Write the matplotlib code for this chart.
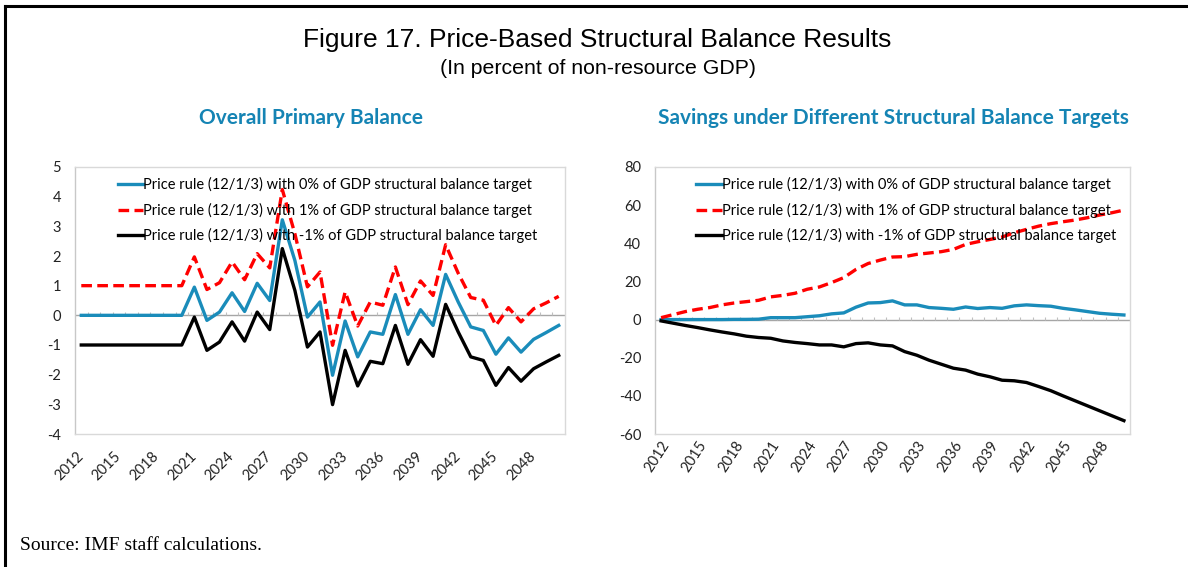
import matplotlib.pyplot as plt
import numpy as np
from matplotlib.lines import Line2D
from matplotlib.transforms import ScaledTranslation

# Years on the category axis
years = list(range(2012, 2051))

# Overall primary balance (left panel)
pb_zero = [0, 0, 0, 0, 0, 0, 0, 0, 0, 0.95, -0.17, 0.11, 0.76, 0.13, 1.08, 0.50, 3.22, 1.85, -0.06, 0.45,
           -2.02, -0.19, -1.40, -0.56, -0.64, 0.70, -0.64, 0.19, -0.34, 1.38, 0.45, -0.39, -0.51, -1.31,
           -0.76, -1.24, -0.81, -0.58, -0.34]
pb_plus = [1, 1, 1, 1, 1, 1, 1, 1, 1, 1.97, 0.87, 1.10, 1.80, 1.20, 2.08, 1.60, 4.24, 2.75, 0.96, 1.46,
           -1.01, 0.79, -0.36, 0.45, 0.34, 1.63, 0.36, 1.16, 0.67, 2.38, 1.42, 0.60, 0.51, -0.34,
           0.26, -0.22, 0.22, 0.42, 0.64]
pb_minus = [-1, -1, -1, -1, -1, -1, -1, -1, -1, -0.06, -1.18, -0.90, -0.22, -0.87, 0.11, -0.48, 2.25, 0.84,
            -1.07, -0.56, -3.01, -1.18, -2.38, -1.55, -1.63, -0.34, -1.65, -0.82, -1.38, 0.37, -0.56,
            -1.40, -1.52, -2.36, -1.76, -2.22, -1.80, -1.57, -1.35]

# Savings (right panel)
sv_zero = [0, 0, 0, 0, 0, 0, 0.1, 0.1, 0.2, 1.0, 1.0, 1.0, 1.5, 2.0, 3.0, 3.5, 6.5, 8.7, 8.9, 9.8,
           7.7, 7.7, 6.3, 5.9, 5.4, 6.6, 5.8, 6.3, 5.9, 7.2, 7.7, 7.3, 7.0, 5.9, 5.1, 4.2, 3.3, 2.8, 2.4]
sv_plus = [1.0, 2.6, 4.2, 5.4, 6.3, 7.7, 8.7, 9.4, 10.1, 11.9, 12.7, 13.8, 15.9, 17.1, 19.4, 22.0, 26.3,
           29.4, 31.2, 32.8, 33.0, 34.2, 34.9, 35.6, 36.8, 39.4, 40.8, 42.0, 43.3, 45.5, 47.3, 49.0,
           50.3, 51.3, 52.2, 53.4, 54.8, 56.0, 57.4]
sv_minus = [-0.7, -1.9, -3.1, -4.2, -5.4, -6.5, -7.5, -8.7, -9.4, -9.8, -11.2, -12.0, -12.6, -13.3, -13.3,
            -14.3, -12.6, -12.2, -13.3, -13.8, -16.8, -18.7, -21.3, -23.4, -25.5, -26.5, -28.6, -30.0,
            -31.8, -32.1, -33.0, -35.1, -37.3, -40.0, -42.6, -45.2, -47.8, -50.4, -53.0]

labels = ['Price rule (12/1/3) with 0% of GDP structural balance target',
          'Price rule (12/1/3) with 1% of GDP structural balance target',
          'Price rule (12/1/3) with -1% of GDP structural balance target']

blue = '#1A8CBA'
red = '#FF0000'
title_blue = '#1584B4'
axis_gray = '#C8C8C8'

fig = plt.figure(figsize=(11.88, 5.67), dpi=100)

# Frame around the figure (top and left)
fig.add_artist(Line2D([5 / 1188, 1], [1 - 6 / 567, 1 - 6 / 567], color='black', lw=2.2))
fig.add_artist(Line2D([5 / 1188, 5 / 1188], [0, 1 - 6 / 567], color='black', lw=2.2))

fig.text(0.503, 1 - 40 / 567, 'Figure 17. Price-Based Structural Balance Results',
         ha='center', va='center', fontsize=19, family='Liberation Sans')
fig.text(0.503, 1 - 68 / 567, '(In percent of non-resource GDP)',
         ha='center', va='center', fontsize=15.3, family='Liberation Sans')
fig.text(20 / 1188, 1 - 545 / 567, 'Source: IMF staff calculations.',
         ha='left', va='center', fontsize=14, family='Liberation Serif')


def panel(rect, series, ylim, yticks, title, rot, tick_h, title_x, shift):
    ax = fig.add_axes(rect)
    x = np.arange(len(years))
    ax.plot(x, series[0], color=blue, lw=2.4, label=labels[0])
    ax.plot(x, series[1], color=red, lw=2.4, ls=(0, (3.2, 1.6)), label=labels[1])
    ax.plot(x, series[2], color='black', lw=2.4, label=labels[2])

    ax.set_xlim(-0.5, len(years) - 0.5)
    ax.set_ylim(*ylim)
    ax.set_yticks(yticks)
    ax.set_yticklabels([str(t) for t in yticks], family='Lato', fontsize=10.5, color='#222222')

    # zero line with category boundary ticks
    ax.axhline(0, color='#A6A6A6', lw=1, zorder=1)
    ax.vlines(x[:-1] + 0.5, 0, tick_h, color='#BFBFBF', lw=0.8, zorder=1)

    ax.set_xticks(x[::3])
    ax.set_xticklabels([str(y) for y in years[::3]], rotation=rot, ha='right',
                       rotation_mode='anchor', family='Lato', fontsize=10.5, color='#222222')
    ax.tick_params(axis='both', length=0)
    ax.tick_params(axis='y', pad=10)
    ax.tick_params(axis='x', pad=6)
    offset = ScaledTranslation(shift[0] / 100, shift[1] / 100, fig.dpi_scale_trans)
    for lab in ax.get_xticklabels():
        lab.set_transform(lab.get_transform() + offset)
    for s in ax.spines.values():
        s.set_color('#D9D9D9')
        s.set_linewidth(1)
    ax.spines['left'].set_color(axis_gray)

    ax.legend(loc='upper left', bbox_to_anchor=(0.075, 0.985), frameon=False,
              prop={'family': 'Lato', 'size': 10.5}, handlelength=1.75, handletextpad=0,
              labelspacing=0.73, borderaxespad=0)

    fig.text(title_x, 1 - 118 / 567, title, ha='center', va='center', fontsize=15,
             fontweight='bold', color=title_blue, family='Lato')
    return ax


panel([75 / 1188, 1 - 434 / 567, 490 / 1188, 267 / 567], [pb_zero, pb_plus, pb_minus],
      (-4, 5), list(range(-4, 6)), 'Overall Primary Balance', 45, 0.1, 311 / 1188, (-5, -7))
panel([655 / 1188, 1 - 434 / 567, 475 / 1188, 267 / 567], [sv_zero, sv_plus, sv_minus],
      (-60, 80), list(range(-60, 81, 20)), 'Savings under Different Structural Balance Targets',
      57, 1.5, 893 / 1188, (0, 4))

fig.savefig('out.png', dpi=100)
